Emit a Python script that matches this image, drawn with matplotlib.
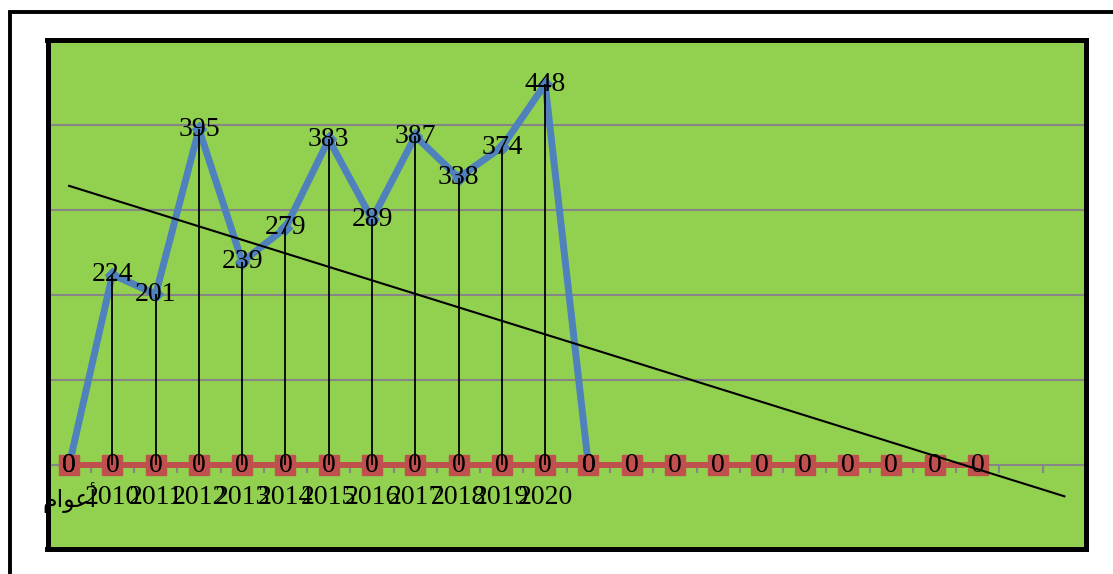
"""
Line chart with drop lines and a linear trend, Excel style.
"""

import matplotlib.pyplot as plt
import numpy as np
from matplotlib.patches import Rectangle

# "أعوام" written in Arabic presentation forms, since matplotlib does no shaping
years = ["\uFEE1\uFE8D\uFEEE\uFECB\uFE83", "2010", "2011", "2012", "2013", "2014",
         "2015", "2016", "2017", "2018", "2019", "2020"]
n_categories = 24
blue_values = [0, 224, 201, 395, 239, 279, 383, 289, 387, 338, 374, 448, 0]
red_values = [0] * 22

BLUE = "#4F81BD"
RED = "#C0504D"
GREEN = "#92D050"
GRID = "#868686"
FONT = ["Liberation Serif", "DejaVu Sans"]


def main():
    W, H = 1113, 574
    fig = plt.figure(figsize=(W / 100, H / 100), dpi=100)
    fig.patch.set_facecolor("white")

    # outer frame of the chart object
    fig.add_artist(Rectangle((9.5 / W, -0.1), 1.2, 1.1 - 12 / H,
                             transform=fig.transFigure, fill=False,
                             edgecolor="black", linewidth=2.8))

    ax = fig.add_axes([47.5 / W, 25 / H, (1086 - 47.5) / W, (534 - 25) / H])
    ax.set_facecolor(GREEN)
    ax.set_xlim(-0.5, n_categories - 0.5)
    ax.set_ylim(-98.8, 500)
    ax.set_xticks([])
    ax.set_yticks([])
    for s in ax.spines.values():
        s.set_linewidth(3.6)
        s.set_color("black")

    # gridlines
    for g in [100, 200, 300, 400]:
        ax.axhline(g, color=GRID, linewidth=1.5, zorder=1)

    # category axis with tick marks between categories
    ax.plot([-0.5, n_categories - 0.5], [0, 0], color=GRID, linewidth=1.5, zorder=1)
    ax.vlines(np.arange(n_categories + 1) - 0.5, -9, 0, color=GRID,
              linewidth=1.5, zorder=1)

    xb = np.arange(len(blue_values))
    xr = np.arange(len(red_values))

    ax.plot(xb, blue_values, color=BLUE, linewidth=5, marker="D",
            markersize=7, zorder=3)
    ax.plot(xr, red_values, color=RED, linewidth=4.3, marker="s",
            markersize=14.4, zorder=4)

    # drop lines
    ax.vlines(xb, 0, blue_values, color="black", linewidth=1.3, zorder=5)

    # linear trend over the data range (empty cells as zero), one period forward
    xt = np.arange(len(red_values))
    yt = np.zeros(len(red_values))
    yt[:len(blue_values)] = blue_values
    k, b = np.polyfit(xt, yt, 1)
    x_end = n_categories - 1
    ax.plot([0, x_end], [b, b + k * x_end], color="black", linewidth=1.5,
            zorder=6)

    for x, v in zip(xb, blue_values):
        ax.text(x, v, str(v), ha="center", va="center", fontsize=20,
                family=FONT, zorder=7)
    for x, v in zip(xr, red_values):
        ax.text(x, v, str(v), ha="center", va="center", fontsize=20,
                family=FONT, zorder=7)

    for i, lab in enumerate(years):
        ax.text(i, -38, lab, ha="center", va="center",
                fontsize=20 if i else 17, family=FONT, zorder=7)

    fig.savefig("out.png", dpi=100)


if __name__ == "__main__":
    main()
